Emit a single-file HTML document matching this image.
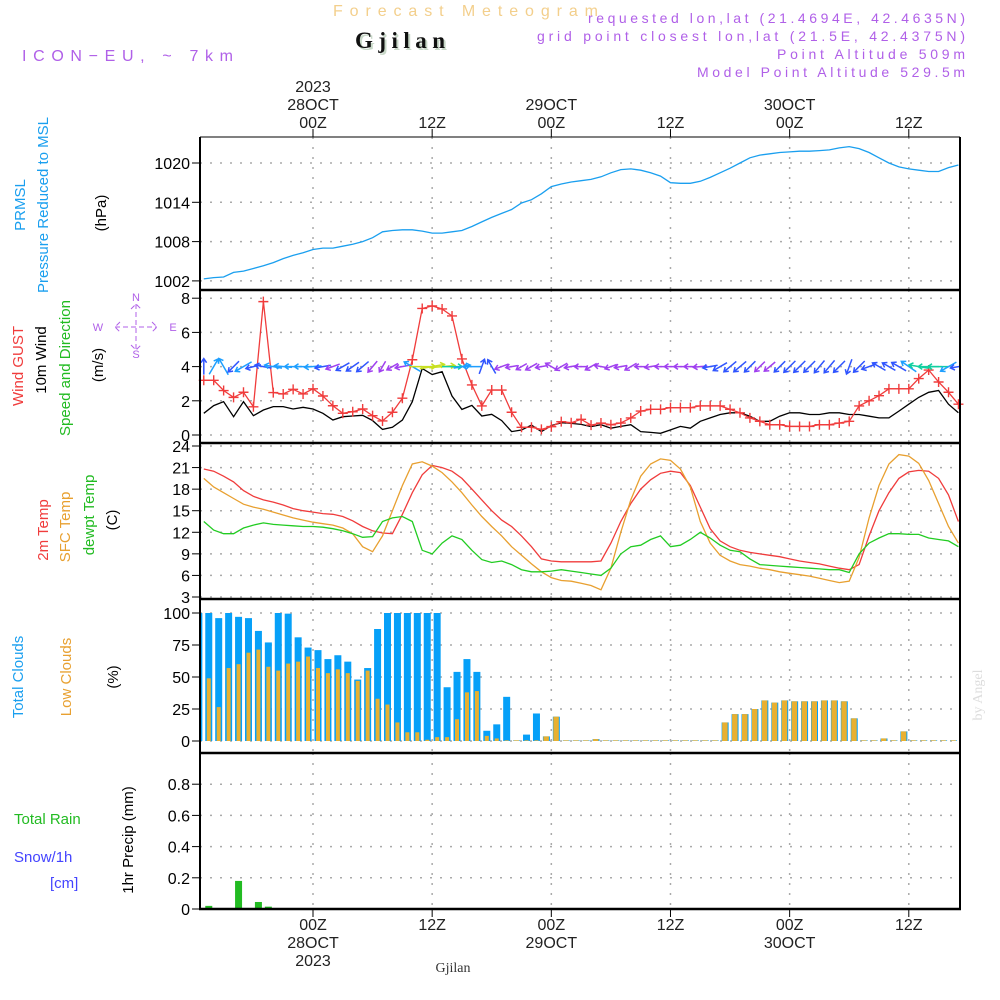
<!DOCTYPE html>
<html><head><meta charset="utf-8"><style>
html,body{margin:0;padding:0;background:#fff;width:1000px;height:1000px;overflow:hidden}
svg text{font-family:"Liberation Sans",sans-serif}
</style></head><body>
<svg id="c" width="1000" height="1000" viewBox="0 0 1000 1000" xmlns="http://www.w3.org/2000/svg">
<text x="333" y="16" textLength="265" lengthAdjust="spacing" font-size="16" fill="#f3cf8c">Forecast Meteogram</text>
<text x="357" y="50" textLength="90" lengthAdjust="spacing" font-size="23" font-weight="bold" fill="#c8d8c8" style="font-family:'Liberation Serif',serif">Gjilan</text>
<text x="355" y="48" textLength="90" lengthAdjust="spacing" font-size="23" font-weight="bold" fill="#111" style="font-family:'Liberation Serif',serif">Gjilan</text>
<text x="22" y="61" textLength="211" lengthAdjust="spacing" font-size="16" fill="#b060e8">ICON−EU, ~ 7km</text>
<g font-size="14" fill="#b060e8">
<text x="588" y="23" textLength="377" lengthAdjust="spacing">requested lon,lat (21.4694E, 42.4635N)</text>
<text x="537" y="41" textLength="428" lengthAdjust="spacing">grid point closest lon,lat (21.5E, 42.4375N)</text>
<text x="777" y="59" textLength="188" lengthAdjust="spacing">Point Altitude 509m</text>
<text x="697" y="77" textLength="268" lengthAdjust="spacing">Model Point Altitude 529.5m</text>
</g>
<text transform="translate(982,695) rotate(-90)" text-anchor="middle" font-size="14" fill="#dddddd" style="font-family:'Liberation Serif',serif">by Angel</text>
<text x="453" y="972" text-anchor="middle" font-size="14" fill="#333" style="font-family:'Liberation Serif',serif">Gjilan</text>
<g id="plots"></g>
</svg>
<script>
// ---- data (hourly, hour 0 = 28OCT 00Z) ----
const startHour = -11;
const pressure = [1002.3,1002.5,1002.6,1003.3,1003.5,1003.9,1004.3,1004.8,1005.4,1005.9,
1006.3,1006.8,1007.0,1007.0,1007.3,1007.6,1008.0,1008.6,1009.5,1009.7,
1009.8,1009.8,1009.6,1009.3,1009.3,1009.5,1009.7,1010.3,1011.0,1011.7,
1012.3,1012.9,1013.9,1014.4,1015.3,1016.4,1016.8,1017.1,1017.3,1017.5,
1017.9,1018.5,1019.0,1019.1,1018.9,1018.5,1018.0,1017.0,1016.9,1016.9,
1017.2,1017.8,1018.5,1019.2,1020.0,1020.8,1021.2,1021.4,1021.6,1021.7,
1021.8,1021.8,1021.9,1022.0,1022.3,1022.5,1022.2,1021.6,1020.8,1020.0,
1019.4,1019.1,1018.9,1018.7,1018.7,1019.3,1019.7];
const gust = [3.2,3.2,2.6,2.2,2.5,1.65,7.8,2.48,2.4,2.67,
2.4,2.7,2.28,1.71,1.27,1.36,1.52,1.13,0.82,1.33,
2.15,4.4,7.4,7.55,7.37,6.96,4.45,2.93,1.7,2.63,
2.63,1.33,0.45,0.45,0.33,0.49,0.78,0.72,0.92,0.58,
0.7,0.6,0.7,1.0,1.4,1.5,1.5,1.6,1.6,1.6,
1.7,1.7,1.7,1.5,1.3,1.0,0.8,0.6,0.6,0.5,
0.5,0.5,0.6,0.6,0.7,0.8,1.7,2.0,2.3,2.7,
2.7,2.7,3.3,3.8,3.1,2.5,1.8];
const windSpeed = [1.27,1.72,1.95,1.07,1.95,1.13,1.46,1.66,1.66,1.52,
1.62,1.52,1.27,0.88,1.07,1.11,1.15,0.84,0.33,0.45,
0.88,1.95,3.89,3.54,3.7,2.28,1.5,1.73,1.11,1.21,
0.84,0.2,0.29,0.58,0.2,0.55,0.72,0.68,0.62,0.49,
0.6,0.4,0.5,0.6,0.2,0.15,0.1,0.3,0.5,0.4,
0.8,1.0,1.2,1.3,1.3,1.1,0.8,0.8,1.1,1.3,
1.3,1.2,1.2,1.3,1.3,1.2,1.2,1.1,1.0,1.0,
1.4,1.8,2.2,2.5,2.6,1.8,1.3];
const windDir = [180,210,150,45,60,75,100,100,95,90,
90,85,80,70,60,55,50,40,30,60,
80,120,270,260,265,270,260,90,200,150,
70,80,60,60,80,120,60,80,90,60,
100,70,80,60,90,80,90,90,90,90,
85,80,60,50,50,45,45,50,45,45,
45,45,40,40,45,20,45,70,120,120,
120,125,100,90,90,60,80];
const temp2m = [20.8,20.5,19.8,19,17.8,17,16.5,16.2,15.8,15.3,
15,14.8,14.6,14.5,14.2,13.6,12.8,12.2,11.9,11.8,
14.5,17.5,20,21.3,21,20.5,19.5,18,16.5,15,
13.7,12.8,11.5,10,8.3,8.0,7.9,7.9,7.9,7.9,
8.0,10.5,13.5,16,18,19.3,20.2,20.5,20.3,18.5,
15.5,12.5,10.8,10,9.5,9.2,9.0,8.8,8.6,8.3,
8.0,7.8,7.6,7.3,7.0,6.8,7.5,11.5,15,17.5,
19.5,20.4,20.6,20.5,19.5,17.2,13.5];
const tempSfc = [19.5,18.3,17.5,16.7,15.9,15.5,15.2,14.8,14.4,14.0,
13.7,13.4,13.2,13.0,12.6,11.8,10.0,9.3,11.5,15,
18.5,21.5,21.8,21.2,20.3,19,17.5,15.8,14.2,12.8,
11.5,10,8.8,7.6,6.5,5.7,5.3,5.2,4.9,4.6,
4.0,7,12,16.5,19.8,21.5,22.2,22,20.8,18.3,
13.5,10.5,8.8,8.0,7.5,7.3,7.0,6.8,6.5,6.3,
6.1,5.9,5.6,5.3,5.0,5.2,8.5,14,18.5,21.5,
22.8,22.6,21.6,19.2,16,12.8,10.5];
const dewpt = [13.5,12.3,11.8,11.8,12.6,13.0,13.3,13.1,13.0,12.9,
12.8,12.8,12.7,12.5,12.2,11.8,11.3,11.4,13.5,14.0,
14.2,13.5,9.5,9.0,10.5,11.5,11.0,9.5,8.2,7.8,
8.0,7.5,6.8,6.5,6.5,6.6,6.8,6.6,6.4,6.2,
6.0,7.0,9.0,10.0,10.2,11.0,11.5,10.0,10.2,11.0,
12.0,11.2,10.2,9.5,9.3,8.3,7.5,7.4,7.3,7.2,
7.1,7.0,6.9,6.8,6.8,6.4,9.0,10.5,11.2,11.8,
11.8,11.7,11.7,11.2,11.0,10.8,10.0];
const cloudStartHour = -12;
const totalClouds = [100,100,96,100,97,96,86,77,100,99.5,
81,73,71,64,67,62,48,57,87.5,100,
100,100,100,100,100,42,54,64,54,8,
13,34.5,0.5,5,21.5,3.6,19,0.5,0.5,0.5,
1.5,0.5,0.5,0.5,0.5,0.5,0.5,0.5,0.5,0.5,
0.5,0.5,0.5,14.5,21,21,25,31.7,30,31.7,
31,31,31,31.7,31.7,31,17.7,0.5,0.5,2,
0.5,7.5,0.5,0.5,0.5,0.5,0.5];
const lowClouds = [39,49,26.5,57,60,69,71.4,58,55,60.5,
62,66,57,53,56,53,47,55,33,28.5,
14.5,6.8,6.8,1,3,3,17,38,39,4,
2,0.5,0.5,0.5,0.5,3.6,19,0.5,0.5,0.5,
1.5,0.5,0.5,0.5,0.5,0.5,0.5,0.5,0.5,0.5,
0.5,0.5,0.5,14.5,21,21,25,31.7,30,31.7,
31,31,31,31.7,31.7,31,17.7,0.5,0.5,2,
0.5,7.5,0.5,0.5,0.5,0.5,0.5];
const precip = [0,0.02,0,0,0.18,0,0.045,0.015,0,0,
0,0,0,0,0,0,0,0,0,0,
0,0,0,0,0,0,0,0,0,0,
0,0,0,0,0,0,0,0,0,0,
0,0,0,0,0,0,0,0,0,0,
0,0,0,0,0,0,0,0,0,0,
0,0,0,0,0,0,0,0,0,0,
0,0,0,0,0,0,0];
const pressureTicks = [1002,1008,1014,1020];
const windTicks = [0,2,4,6,8];
const tempTicks = [3,6,9,12,15,18,21,24];
const cloudTicks = [0,25,50,75,100];
const precipTicks = [0,0.2,0.4,0.6,0.8];
const timeTicks = [0,12,24,36,48,60];
const timeLabels = ["00Z","12Z","00Z","12Z","00Z","12Z"];
const dayLabels = ["28OCT","","29OCT","","30OCT",""];

// ---- axes ----
const X0=200, X1=960;
const xH = h => 313 + h*9.93;
const yP = v => 163 + (1020-v)*6.55;
const yW = v => 435 - v*17.1;
const yT = v => 446 + (24-v)*7.19;
const yC = v => 741 - v*1.28;
const yR = v => 909 - v*156;
const NS="http://www.w3.org/2000/svg";
const root=document.getElementById('plots');
function mk(tag,attrs,parent){const e=document.createElementNS(NS,tag);for(const k in attrs)e.setAttribute(k,attrs[k]);(parent||root).appendChild(e);return e;}
function txt(x,y,s,size,fill,anchor,parent){const t=mk('text',{x:x,y:y,'font-size':size,fill:fill,'text-anchor':anchor||'start'},parent);t.textContent=s;return t;}

const panels=[{t:137,b:290,ticks:pressureTicks,f:yP,name:'pressure'},{t:290,b:443,ticks:windTicks,f:yW,name:'wind'},
{t:443,b:599,ticks:tempTicks,f:yT,name:'temperature'},{t:599,b:753,ticks:cloudTicks,f:yC,name:'clouds'},{t:753,b:909,ticks:precipTicks,f:yR,name:'precip'}];
const defs=mk('defs',{});
panels.forEach((p,i)=>{
  const cp=mk('clipPath',{id:'cp'+i},defs);
  mk('rect',{x:X0,y:p.t,width:X1-X0,height:p.b-p.t},cp);
  const g=mk('g',{});
  
  
  p.g=g;
  p.ticks.forEach(v=>{
    const y=p.f(v);
    const l=mk('line',{x1:X0,x2:X1,y1:y,y2:y,stroke:'#aaa','stroke-width':1.5,'stroke-dasharray':'2,8'},g);
    
    
    mk('line',{x1:X0-8,x2:X0,y1:y,y2:y,stroke:'#000','stroke-width':1},g);
    const t=txt(X0-10,y+6,String(v),16,'#000','end',g);
    
    
  });
  timeTicks.forEach(h=>{
    const x=xH(h);
    const l=mk('line',{x1:x,x2:x,y1:p.t,y2:p.b,stroke:'#aaa','stroke-width':1.5,'stroke-dasharray':'2,8'},g);
    
    
  });
});
const hx=(i,s)=>xH(s+i);
function line(arr,s,f,color,pi,name,w){
  const pts=arr.map((v,i)=>hx(i,s).toFixed(1)+','+f(v).toFixed(1)).join(' ');
  const pl=mk('polyline',{points:pts,fill:'none',stroke:color,'stroke-width':w||1.3,'clip-path':'url(#cp'+pi+')'},panels[pi].g);
  
  
}
line(pressure,startHour,yP,'#1a9fef',0,'pressure-line');
// clouds
totalClouds.forEach((v,i)=>{
  const x=hx(i,cloudStartHour)+5;
  const r=mk('rect',{x:x-3.5,y:yC(v),width:7,height:Math.max(0.5,yC(0)-yC(v)),fill:'#06a0f8','clip-path':'url(#cp3)'},panels[3].g);
  
  
});
lowClouds.forEach((v,i)=>{
  const x=hx(i,cloudStartHour)+5;
  const big=v>=totalClouds[i]-0.1;
  const r=mk('rect',{x:big?x-3:x-2,y:yC(v),width:big?5.5:4,height:Math.max(0.5,yC(0)-yC(v)),fill:'#e8b030','clip-path':'url(#cp3)'},panels[3].g);
  
  
});
// precip
precip.forEach((v,i)=>{
  if(v<=0) return;
  const x=hx(i,cloudStartHour)+5;
  const r=mk('rect',{x:x-3.5,y:yR(v),width:7,height:yR(0)-yR(v),fill:'#22bb22'},panels[4].g);
  
  
});
// temps
line(temp2m,startHour,yT,'#f03c3c',2,'temp-2m-line');
line(tempSfc,startHour,yT,'#e8a030',2,'temp-sfc-line');
line(dewpt,startHour,yT,'#22cc22',2,'dewpoint-line');
// wind
line(windSpeed,startHour,yW,'#000',1,'wind-speed-line');
line(gust,startHour,yW,'#f03c3c',1,'wind-gust-line');
gust.forEach((v,i)=>{
  const x=hx(i,startHour), y=yW(v);
  const p=mk('path',{d:`M${x-5},${y}H${x+5}M${x},${y-5}V${y+5}`,stroke:'#f03c3c','stroke-width':1.4},panels[1].g);
  
  
});
function wcol(s){return s<0.9?'#a040f0':s<1.5?'#3055ff':s<2.0?'#1e9fff':s<3?'#10d0a0':'#c8e020';}
windDir.forEach((d,i)=>{
  const s=windSpeed[i], x=hx(i,startHour), y=yW(4);
  const len=11+4*s, a=(d+180)*Math.PI/180;
  const dx=Math.sin(a)*len/2, dy=-Math.cos(a)*len/2;
  const x1=x-dx,y1=y-dy,x2=x+dx,y2=y+dy;
  const ang=Math.atan2(y2-y1,x2-x1), hl=5;
  const h1x=x2-hl*Math.cos(ang-0.6),h1y=y2-hl*Math.sin(ang-0.6),h2x=x2-hl*Math.cos(ang+0.6),h2y=y2-hl*Math.sin(ang+0.6);
  const p=mk('path',{d:`M${x1.toFixed(1)},${y1.toFixed(1)}L${x2.toFixed(1)},${y2.toFixed(1)}M${h1x.toFixed(1)},${h1y.toFixed(1)}L${x2.toFixed(1)},${y2.toFixed(1)}L${h2x.toFixed(1)},${h2y.toFixed(1)}`,stroke:wcol(s),'stroke-width':1.5,fill:'none','clip-path':'url(#cp1)'},panels[1].g);
  
  
});
// frame
const fr=mk('g',{});


mk('line',{x1:X0,x2:X1,y1:137,y2:137,stroke:'#000','stroke-width':1},fr);
[290,443,599,753,909].forEach(y=>mk('line',{x1:X0-1,x2:X1+1,y1:y,y2:y,stroke:'#000','stroke-width':2.5},fr));
mk('line',{x1:X0,x2:X0,y1:137,y2:909,stroke:'#000','stroke-width':2},fr);
mk('line',{x1:X1,x2:X1,y1:137,y2:909,stroke:'#000','stroke-width':2},fr);
timeTicks.forEach((h,i)=>{
  const x=xH(h);
  mk('line',{x1:x,x2:x,y1:129,y2:137,stroke:'#000','stroke-width':1},fr);
  mk('line',{x1:x,x2:x,y1:909,y2:917,stroke:'#000','stroke-width':1},fr);
  let t=txt(x,128,timeLabels[i],16,'#222','middle',fr);
  
  
  t=txt(x,930,timeLabels[i],16,'#222','middle',fr);
  
  
  if(dayLabels[i]){
    t=txt(x,110,dayLabels[i],16,'#222','middle',fr);
    
    
    t=txt(x,948,dayLabels[i],16,'#222','middle',fr);
    
    
  }
});
let yr=txt(xH(0),92,'2023',16,'#222','middle',fr);


yr=txt(xH(0),966,'2023',16,'#222','middle',fr);



// side labels
function vt(x,y,s,col,name){const t=mk('text',{transform:`translate(${x},${y}) rotate(-90)`,'text-anchor':'middle','font-size':15,fill:col});t.textContent=s;
  
  }
vt(25,205,'PRMSL','#1a9fef','prmsl-label');
vt(48,205,'Pressure Reduced to MSL','#1a9fef','pressure-label');
vt(106,213,'(hPa)','#000','pressure-unit');
vt(23,366,'Wind GUST','#f03c3c','gust-label');
vt(46,360,'10m Wind','#000','wind-label');
vt(70,368,'Speed and Direction','#22bb22','speed-direction-label');
vt(103,365,'(m/s)','#000','wind-unit');
vt(48,530,'2m Temp','#f03c3c','temp2m-label');
vt(70,527,'SFC Temp','#e8a030','tempsfc-label');
vt(94,515,'dewpt Temp','#22bb22','dewpt-label');
vt(117,520,'(C)','#000','temp-unit');
vt(23,677,'Total Clouds','#1a9fef','total-clouds-label');
vt(71,677,'Low Clouds','#e8a030','low-clouds-label');
vt(118,677,'(%)','#000','clouds-unit');
vt(133,840,'1hr Precip (mm)','#000','precip-unit');
let tl=txt(14,824,'Total  Rain',15,'#22bb22','start');


tl=txt(14,862,'Snow/1h',15,'#4444ff','start');


tl=txt(50,888,'[cm]',15,'#4444ff','start');


// compass
const cg=mk('g',{fill:'#b060e8','font-size':11});


[['N',136,301],['W',98,331],['E',173,331],['S',136,358]].forEach(a=>{const t=mk('text',{x:a[1],y:a[2],'text-anchor':'middle'},cg);t.textContent=a[0];});
mk('path',{d:'M115,327H157M136,304V350M120,322L115,327L120,332M152,322L157,327L152,332M131,309L136,304L141,309M131,345L136,350L141,345',stroke:'#b060e8','stroke-width':1,fill:'none','stroke-dasharray':'5,3'},cg);
</script>
</body></html>
